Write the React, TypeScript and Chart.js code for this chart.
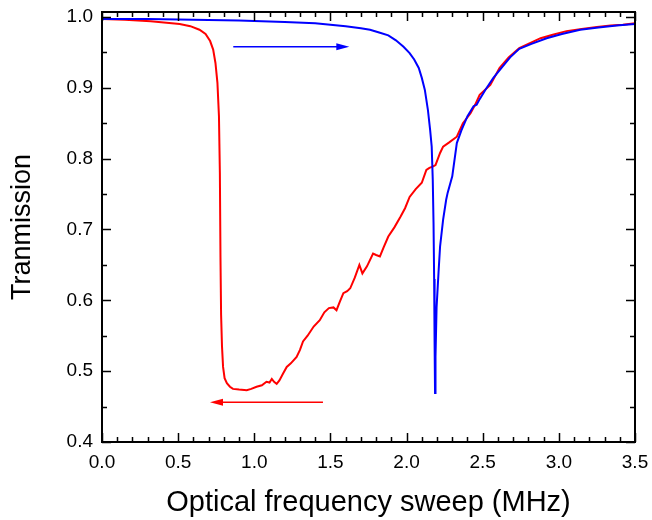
import React, { useEffect, useRef } from "react";
import { Chart, registerables } from "chart.js";

Chart.register(...registerables);

const xTicks = [0, 0.5, 1.0, 1.5, 2.0, 2.5, 3.0, 3.5];
const yTicks = [0.4, 0.5, 0.6, 0.7, 0.8, 0.9, 1.0];
const xMinorStep = 0.1;
const yMinorStep = 0.05;
const yMin = 0.4;
const yMax = 1.007;

const blueX = [0, 0.3, 0.6, 0.9, 1.2, 1.4, 1.5, 1.6, 1.7, 1.76, 1.82, 1.88, 1.93, 1.98, 2.02, 2.05, 2.08, 2.1, 2.12, 2.14, 2.155, 2.165, 2.172, 2.177, 2.181, 2.184, 2.187, 2.19, 2.197, 2.21, 2.22, 2.24, 2.26, 2.27, 2.3, 2.33, 2.36, 2.4, 2.44, 2.46, 2.48, 2.52, 2.57, 2.63, 2.68, 2.74, 2.82, 2.92, 3.02, 3.14, 3.26, 3.38, 3.5];
const blueY = [0.997, 0.997, 0.996, 0.995, 0.993, 0.991, 0.989, 0.987, 0.984, 0.982, 0.978, 0.974, 0.967, 0.958, 0.949, 0.94, 0.928, 0.914, 0.897, 0.869, 0.84, 0.817, 0.77, 0.71, 0.63, 0.54, 0.469, 0.52, 0.59, 0.64, 0.676, 0.714, 0.742, 0.752, 0.775, 0.822, 0.84, 0.86, 0.874, 0.876, 0.884, 0.898, 0.914, 0.93, 0.943, 0.955, 0.962, 0.97, 0.976, 0.982, 0.985, 0.988, 0.99];

const redX = [0, 0.15, 0.32, 0.51, 0.58, 0.64, 0.68, 0.71, 0.73, 0.745, 0.758, 0.768, 0.774, 0.778, 0.782, 0.788, 0.795, 0.805, 0.82, 0.84, 0.86, 0.9, 0.95, 0.98, 1.015, 1.05, 1.08, 1.1, 1.115, 1.13, 1.147, 1.165, 1.19, 1.213, 1.24, 1.278, 1.3, 1.32, 1.35, 1.39, 1.43, 1.46, 1.49, 1.52, 1.54, 1.56, 1.585, 1.61, 1.63, 1.66, 1.69, 1.71, 1.74, 1.78, 1.8, 1.825, 1.85, 1.88, 1.92, 1.96, 1.99, 2.02, 2.06, 2.1, 2.13, 2.15, 2.175, 2.19, 2.22, 2.24, 2.28, 2.33, 2.37, 2.42, 2.45, 2.48, 2.55, 2.61, 2.67, 2.74, 2.81, 2.88, 2.96, 3.05, 3.15, 3.25, 3.34, 3.42, 3.5];
const redY = [0.997, 0.996, 0.994, 0.99, 0.987, 0.982, 0.976, 0.966, 0.954, 0.935, 0.907, 0.86, 0.78, 0.66, 0.58, 0.535, 0.506, 0.49, 0.483, 0.478, 0.475, 0.474, 0.473, 0.475, 0.478, 0.48, 0.485, 0.484, 0.489, 0.485, 0.482, 0.487, 0.497, 0.506, 0.511, 0.52, 0.53, 0.542, 0.55, 0.563, 0.572, 0.583, 0.589, 0.59, 0.586, 0.597, 0.61, 0.613, 0.617, 0.632, 0.65, 0.638, 0.648, 0.666, 0.664, 0.662, 0.675, 0.69, 0.703, 0.718, 0.73, 0.746, 0.757, 0.766, 0.784, 0.787, 0.789, 0.791, 0.808, 0.817, 0.823, 0.831, 0.85, 0.864, 0.876, 0.89, 0.904, 0.928, 0.943, 0.956, 0.963, 0.97, 0.975, 0.98, 0.983, 0.986, 0.988, 0.989, 0.991];

const blueArrowX = [0.862, 1.624];
const blueArrowY = [0.958, 0.958];
const redArrowX = [1.451, 0.709];
const redArrowY = [0.456, 0.456];

const BLUE = "#0000ff";
const RED = "#ff0000";
const FONT = "'Liberation Sans', Arial, sans-serif";

const toPts = (xs: number[], ys: number[]) => xs.map((x, i) => ({ x, y: ys[i] }));

const framePlugin = {
  id: "frame",
  afterDatasetsDraw(chart: any) {
    const { ctx, chartArea: a, scales } = chart;
    const xs = scales.x;
    const ys = scales.y;
    ctx.save();
    const drawArrow = (ax: number[], ay: number[], color: string) => {
      const x1 = xs.getPixelForValue(ax[0]);
      const y1 = ys.getPixelForValue(ay[0]);
      const x2 = xs.getPixelForValue(ax[1]);
      const y2 = ys.getPixelForValue(ay[1]);
      const dir = Math.sign(x2 - x1);
      const headLen = 13;
      ctx.strokeStyle = color;
      ctx.fillStyle = color;
      ctx.lineWidth = 1.5;
      ctx.beginPath();
      ctx.moveTo(x1, y1);
      ctx.lineTo(x2 - dir * headLen * 0.8, y2);
      ctx.stroke();
      ctx.beginPath();
      ctx.moveTo(x2, y2);
      ctx.lineTo(x2 - dir * headLen, y2 - 3.5);
      ctx.lineTo(x2 - dir * headLen, y2 + 3.5);
      ctx.closePath();
      ctx.fill();
    };
    drawArrow(blueArrowX, blueArrowY, BLUE);
    drawArrow(redArrowX, redArrowY, RED);

    ctx.strokeStyle = "#000";
    ctx.lineWidth = 2;
    ctx.strokeRect(a.left, a.top, a.right - a.left, a.bottom - a.top);

    ctx.lineWidth = 1.5;
    ctx.beginPath();
    const xmin = xTicks[0];
    const xmax = xTicks[xTicks.length - 1];
    const nx = Math.round((xmax - xmin) / xMinorStep);
    for (let i = 0; i <= nx; i++) {
      const v = xmin + i * xMinorStep;
      const major = xTicks.some((t) => Math.abs(t - v) < 1e-6);
      const len = major ? 9 : 5;
      const px = Math.round(xs.getPixelForValue(v)) + 0.5;
      ctx.moveTo(px, a.bottom);
      ctx.lineTo(px, a.bottom - len);
      ctx.moveTo(px, a.top);
      ctx.lineTo(px, a.top + len);
    }
    const ny = Math.round((yTicks[yTicks.length - 1] - yTicks[0]) / yMinorStep);
    for (let i = 0; i <= ny; i++) {
      const v = yTicks[0] + i * yMinorStep;
      const major = yTicks.some((t) => Math.abs(t - v) < 1e-6);
      const len = major ? 9 : 5;
      const py = Math.round(ys.getPixelForValue(v)) + 0.5;
      ctx.moveTo(a.left, py);
      ctx.lineTo(a.left + len, py);
      ctx.moveTo(a.right, py);
      ctx.lineTo(a.right - len, py);
    }
    ctx.stroke();
    ctx.restore();
  },
};

export default function App() {
  const ref = useRef<HTMLCanvasElement | null>(null);
  useEffect(() => {
    if (!ref.current) return;
    const chart = new Chart(ref.current, {
      type: "line",
      data: {
        datasets: [
          {
            label: "forward",
            data: toPts(blueX, blueY),
            borderColor: BLUE,
            borderWidth: 2,
            pointRadius: 0,
            tension: 0,
            fill: false,
          },
          {
            label: "backward",
            data: toPts(redX, redY),
            borderColor: RED,
            borderWidth: 2,
            pointRadius: 0,
            tension: 0,
            fill: false,
          },
        ],
      },
      options: {
        animation: false,
        responsive: false,
        parsing: false,
        layout: { padding: { left: 0, top: 12, right: 17, bottom: 0 } },
        plugins: { legend: { display: false }, tooltip: { enabled: false } },
        scales: {
          x: {
            type: "linear",
            min: xTicks[0],
            max: xTicks[xTicks.length - 1],
            grid: { display: false, drawTicks: false },
            border: { display: false },
            afterBuildTicks: (s: any) => {
              s.ticks = xTicks.map((v) => ({ value: v }));
            },
            afterFit: (s: any) => {
              s.height = 78;
              s.paddingLeft = 0;
              s.paddingRight = 0;
            },
            ticks: {
              color: "#000",
              padding: 9,
              font: { family: FONT, size: 19 },
              callback: (v: any) => Number(v).toFixed(1),
              maxRotation: 0,
            },
            title: {
              display: true,
              text: "Optical frequency sweep (MHz)",
              color: "#000",
              font: { family: FONT, size: 29 },
              padding: { top: 8, bottom: 0 },
            },
          },
          y: {
            type: "linear",
            min: yMin,
            max: yMax,
            grid: { display: false, drawTicks: false },
            border: { display: false },
            afterBuildTicks: (s: any) => {
              s.ticks = yTicks.map((v) => ({ value: v }));
            },
            afterFit: (s: any) => {
              s.width = 102;
              s.paddingTop = 0;
              s.paddingBottom = 0;
            },
            ticks: {
              color: "#000",
              padding: 9,
              font: { family: FONT, size: 19 },
              callback: (v: any) => Number(v).toFixed(1),
            },
            title: {
              display: true,
              text: "Tranmission",
              color: "#000",
              font: { family: FONT, size: 27 },
              padding: { top: 6, bottom: 4 },
            },
          },
        },
      },
      plugins: [framePlugin],
    });
    return () => chart.destroy();
  }, []);
  return (
    <div style={{ position: "fixed", left: 0, top: 0, width: 652, height: 520, background: "#fff" }}>
      <canvas ref={ref} width={652} height={520} />
    </div>
  );
}
